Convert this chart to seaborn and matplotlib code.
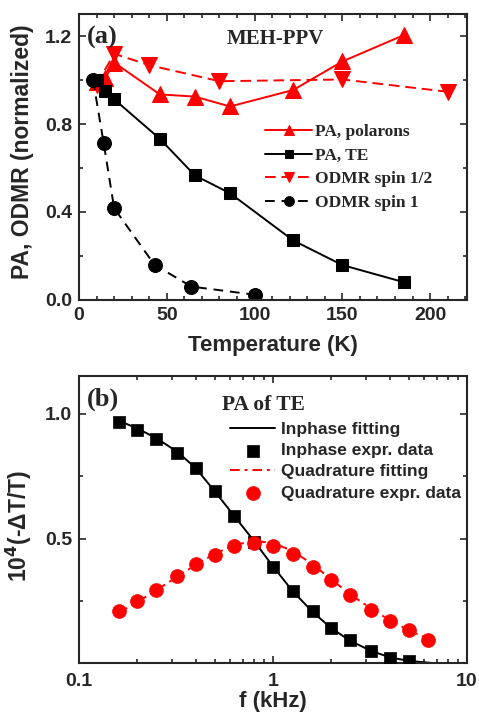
import matplotlib
matplotlib.use("Agg")
import matplotlib.pyplot as plt
from matplotlib.ticker import MultipleLocator, FixedLocator, FuncFormatter, NullFormatter
import seaborn as sns

# ---- panel (a): temperature dependence ----
T_pol = [10, 15, 20, 46, 66, 86, 122, 150, 185]
pa_pol = [0.99, 1.01, 1.08, 0.935, 0.925, 0.88, 0.955, 1.085, 1.205]
T_te = [10, 15, 20, 46, 66, 86, 122, 150, 185]
pa_te = [1.0, 0.95, 0.913, 0.733, 0.566, 0.485, 0.27, 0.158, 0.08]
T_s12 = [10, 20, 40, 80, 150, 210]
odmr_s12 = [0.98, 1.12, 1.068, 0.995, 1.003, 0.947]
T_s1 = [8, 14, 20, 43, 64, 100]
odmr_s1 = [1.0, 0.715, 0.417, 0.159, 0.06, 0.023]

# ---- panel (b): frequency dependence ----
freq = [0.16, 0.2, 0.25, 0.32, 0.4, 0.5, 0.63, 0.8, 1.0, 1.26, 1.6,
        2.0, 2.5, 3.2, 4.0, 5.0]
inphase = [0.967, 0.934, 0.90, 0.843, 0.781, 0.692, 0.592, 0.489, 0.387,
           0.29, 0.211, 0.145, 0.095, 0.054, 0.025, 0.012]
freq_q = freq + [6.3]
quad = [0.211, 0.251, 0.294, 0.35, 0.40, 0.436, 0.472, 0.483, 0.47,
        0.44, 0.387, 0.334, 0.277, 0.217, 0.171, 0.138, 0.095]
freq_fit = [0.16, 0.2, 0.25, 0.32, 0.4, 0.5, 0.63, 0.8, 1.0, 1.26, 1.6,
            2.0, 2.5, 3.2, 4.0, 5.0, 6.5]
inphase_fit = [0.972, 0.94, 0.902, 0.848, 0.782, 0.69, 0.592, 0.49, 0.39,
               0.292, 0.208, 0.143, 0.093, 0.053, 0.027, 0.013, 0.005]
quad_fit = [0.205, 0.248, 0.295, 0.348, 0.397, 0.44, 0.475, 0.492, 0.483,
            0.452, 0.398, 0.338, 0.278, 0.222, 0.175, 0.135, 0.098]

RED = '#FF0000'
BLACK = '#000000'
SANS = 'Liberation Sans'
SERIF = 'Liberation Serif'

sns.set_style('ticks')
plt.rcParams['font.family'] = [SANS, 'DejaVu Sans']
plt.rcParams['font.weight'] = 'bold'
plt.rcParams['axes.linewidth'] = 1.5
plt.rcParams['mathtext.default'] = 'bf'

fig = plt.figure(figsize=(4.79, 7.12), dpi=100)
ax1 = fig.add_axes([0.165, 0.579, 0.81, 0.401])
ax2 = fig.add_axes([0.165, 0.069, 0.81, 0.403])


def style_ticks(ax):
    ax.tick_params(which='both', direction='in', top=True, right=True,
                   width=1.2, labelsize=14, pad=5)
    ax.tick_params(which='major', length=5)
    ax.tick_params(which='minor', length=3)
    for lab in ax.get_xticklabels() + ax.get_yticklabels():
        lab.set_fontweight('bold')


# ---------------- panel (a) ----------------
sns.lineplot(x=T_pol, y=pa_pol, ax=ax1, color=RED, marker='^',
             markersize=11, markeredgecolor=RED, linewidth=1.4,
             linestyle='-', sort=False, estimator=None,
             label='PA, polarons')
sns.lineplot(x=T_s12, y=odmr_s12, ax=ax1, color=RED, marker='v',
             markersize=11, markeredgecolor=RED, linewidth=1.4,
             linestyle=(0, (5.5, 3)), sort=False, estimator=None,
             label='ODMR spin 1/2')
sns.lineplot(x=T_te, y=pa_te, ax=ax1, color=BLACK, marker='s',
             markersize=9, markeredgecolor=BLACK, linewidth=1.4,
             linestyle='-', sort=False, estimator=None,
             label='PA, TE')
sns.lineplot(x=T_s1, y=odmr_s1, ax=ax1, color=BLACK, marker='o',
             markersize=10, markeredgecolor=BLACK, linewidth=1.4,
             linestyle=(0, (5, 3.5)), sort=False, estimator=None,
             label='ODMR spin 1')

ax1.set_xlim(0, 221)
ax1.set_ylim(0, 1.3)
ax1.xaxis.set_major_locator(MultipleLocator(50))
ax1.xaxis.set_minor_locator(MultipleLocator(10))
ax1.yaxis.set_major_locator(MultipleLocator(0.4))
ax1.yaxis.set_minor_locator(MultipleLocator(0.2))
ax1.yaxis.set_major_formatter(FuncFormatter(lambda v, p: f'{v:.1f}'))
style_ticks(ax1)

ax1.set_xlabel('Temperature (K)', fontsize=16, fontweight='bold')
ax1.set_ylabel('PA, ODMR (normalized)', fontsize=16.5, fontweight='bold')
ax1.xaxis.set_label_coords(0.5, -0.125)
ax1.yaxis.set_label_coords(-0.115, 0.52)

ax1.text(0.02, 0.96, '(a)', transform=ax1.transAxes, ha='left', va='top',
         fontsize=19, fontweight='bold', family=SERIF)
ax1.text(0.505, 0.95, 'MEH-PPV', transform=ax1.transAxes, ha='center',
         va='top', fontsize=15, fontweight='bold', family=SERIF)

h, l = ax1.get_legend_handles_labels()
order = [l.index(n) for n in
         ['PA, polarons', 'PA, TE', 'ODMR spin 1/2', 'ODMR spin 1']]
ax1.legend([h[i] for i in order], [l[i] for i in order],
           loc='upper left', bbox_to_anchor=(0.48, 0.615),
           frameon=False, borderpad=0, borderaxespad=0,
           handlelength=2.7, handletextpad=0.15, labelspacing=0.42,
           numpoints=1, markerscale=0.7,
           prop={'family': SERIF, 'weight': 'bold', 'size': 12.5})

# ---------------- panel (b) ----------------
sns.lineplot(x=freq_fit, y=inphase_fit, ax=ax2, color=BLACK, linewidth=1.4,
             sort=False, estimator=None, label='Inphase fitting')
sns.scatterplot(x=freq, y=inphase, ax=ax2, color=BLACK, marker='s', s=75,
                edgecolor=BLACK, linewidth=0.5, label='Inphase expr. data',
                zorder=3)
sns.lineplot(x=freq_fit, y=quad_fit, ax=ax2, color=RED, linewidth=1.4,
             linestyle=(0, (5, 2.5, 1.5, 2.5)), sort=False, estimator=None,
             label='Quadrature fitting')
sns.scatterplot(x=freq_q, y=quad, ax=ax2, color=RED, marker='o', s=100,
                edgecolor=RED, linewidth=0.5, label='Quadrature expr. data',
                zorder=3)

ax2.set_xscale('log')
ax2.set_xlim(0.1, 10)
ax2.set_ylim(0.005, 1.15)
ax2.xaxis.set_major_formatter(FuncFormatter(lambda v, p: f'{v:g}'))
ax2.xaxis.set_minor_formatter(NullFormatter())
ax2.yaxis.set_major_locator(FixedLocator([0.5, 1.0]))
ax2.yaxis.set_minor_locator(FixedLocator([0.25, 0.75]))
ax2.yaxis.set_major_formatter(FuncFormatter(lambda v, p: f'{v:.1f}'))
style_ticks(ax2)
ax2.tick_params(axis='x', pad=7)

ax2.set_xlabel('f (kHz)', fontsize=16, fontweight='bold')
ax2.set_ylabel(r'10$^4$(-ΔT/T)', fontsize=16.5, fontweight='bold')
ax2.xaxis.set_label_coords(0.5, -0.097)
ax2.yaxis.set_label_coords(-0.115, 0.477)

ax2.text(0.02, 0.96, '(b)', transform=ax2.transAxes, ha='left', va='top',
         fontsize=19, fontweight='bold', family=SERIF)
ax2.text(0.475, 0.935, 'PA of TE', transform=ax2.transAxes, ha='center',
         va='top', fontsize=15.5, fontweight='bold', family=SERIF)

ax2.legend(loc='upper left', bbox_to_anchor=(0.39, 0.84),
           frameon=False, borderpad=0, borderaxespad=0,
           handlelength=2.6, handletextpad=0.3, labelspacing=0.35,
           prop={'family': SANS, 'weight': 'bold', 'size': 12.5})

fig.savefig('out.png', dpi=100)
